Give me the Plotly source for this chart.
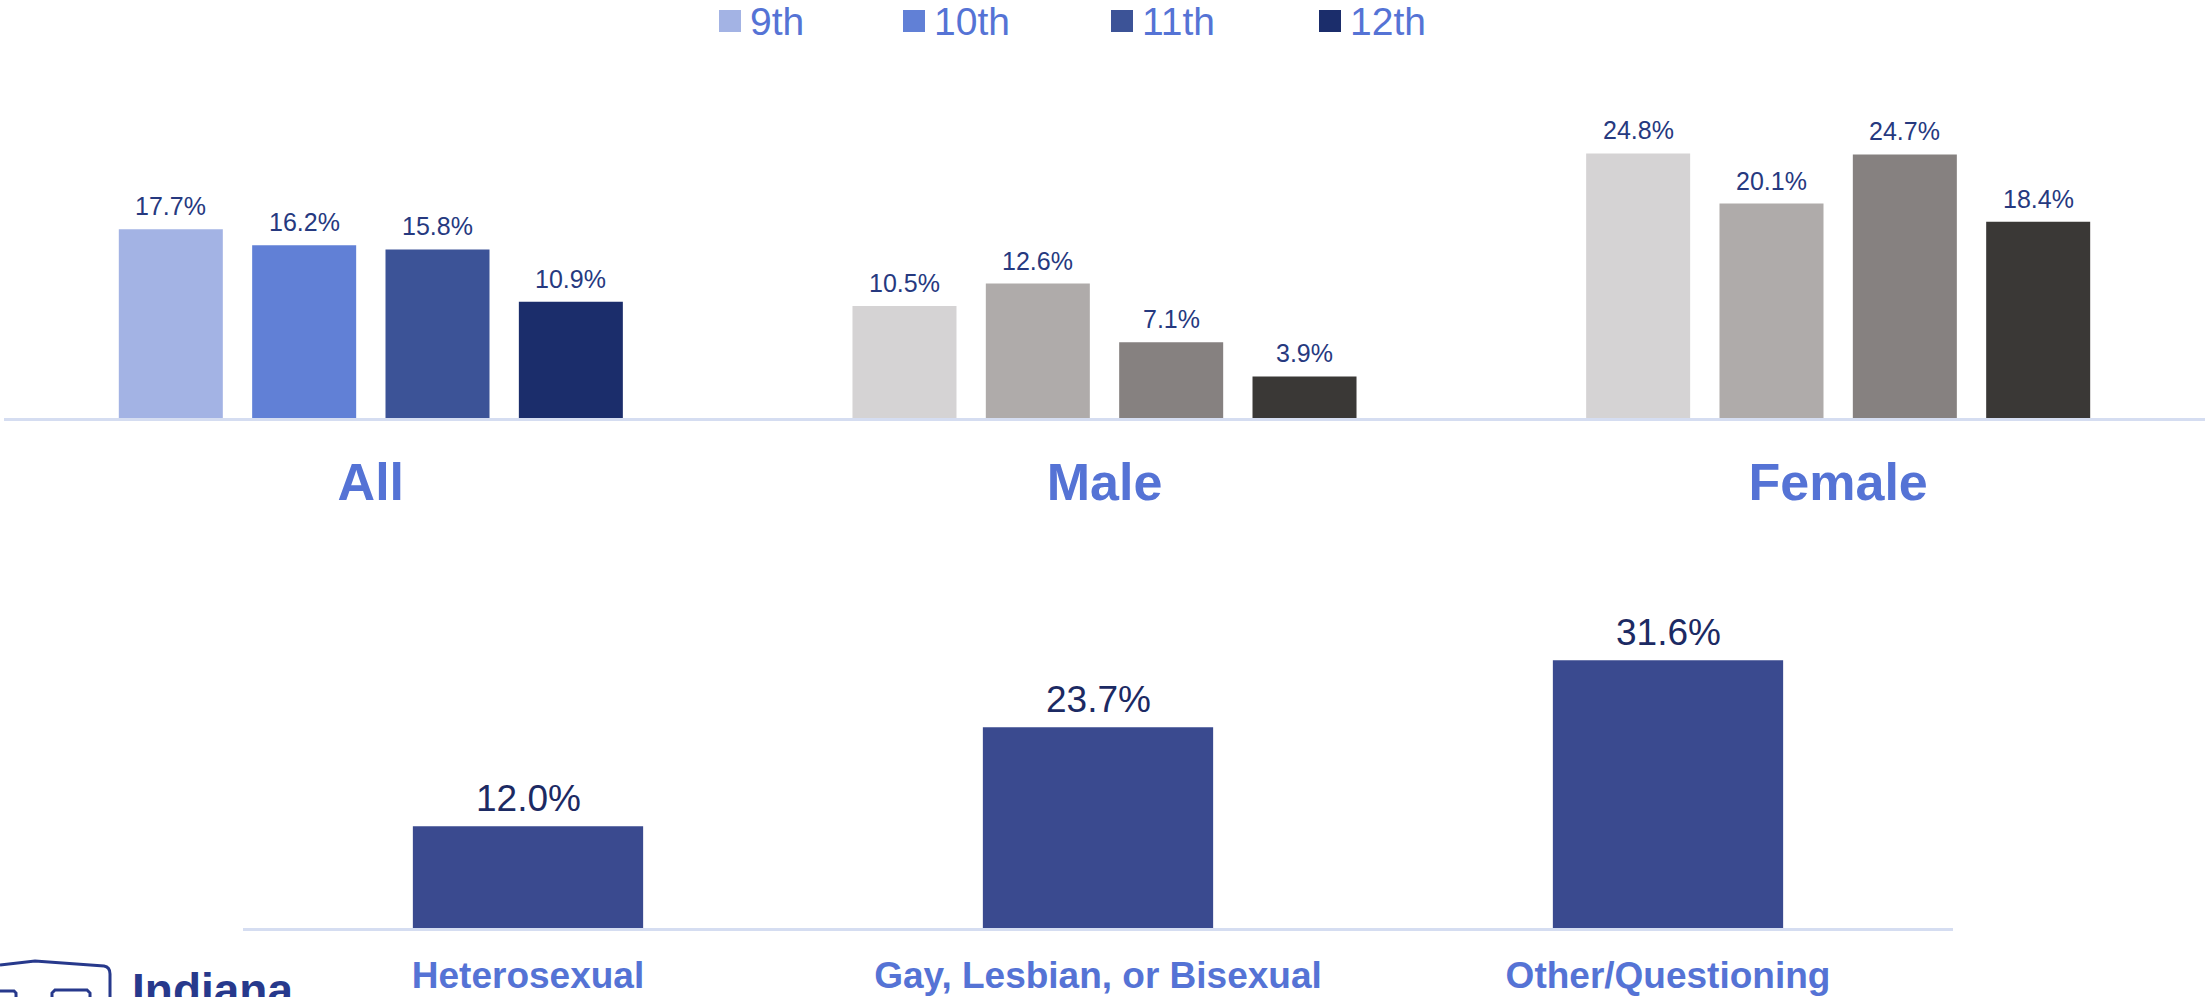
import plotly.graph_objects as go

# full page size; body margin is removed by a post script so the figure fills the page
W, H = 2205, 997

# ---------------- data ----------------
groups = ["All", "Male", "Female"]
grades = ["9th", "10th", "11th", "12th"]
grade9 = [17.7, 10.5, 24.8]
grade10 = [16.2, 12.6, 20.1]
grade11 = [15.8, 7.1, 24.7]
grade12 = [10.9, 3.9, 18.4]
orientations = ["Heterosexual", "Gay, Lesbian, or Bisexual", "Other/Questioning"]
orientation_vals = [12.0, 23.7, 31.6]

# ---------------- styles ----------------
all_colors = ["#A3B3E4", "#6180D6", "#3C5397", "#1B2D6B"]
gender_colors = ["#D5D3D4", "#AFABAA", "#868180", "#3A3836"]
orient_color = "#3A4A8F"
label_blue = "#5573D5"
value_navy = "#26397F"
value_navy2 = "#1C2A63"
axis_line = "#D5DDF1"
FONT = "Arial, Liberation Sans, sans-serif"

BARGAP, BARGROUPGAP = 0.273, 0.22


def px_x(p):
    return p / W


def px_y(p):
    return 1 - p / H


fig = go.Figure()

series = [grade9, grade10, grade11, grade12]
for i, (name, vals) in enumerate(zip(grades, series)):
    fig.add_trace(go.Bar(
        x=groups, y=vals, name=name,
        marker=dict(color=[all_colors[i], gender_colors[i], gender_colors[i]], line=dict(width=0)),
        showlegend=False, xaxis="x", yaxis="y",
    ))

fig.add_trace(go.Bar(
    x=orientations, y=orientation_vals, name="Sexual orientation",
    marker=dict(color=orient_color, line=dict(width=0)),
    width=0.404, showlegend=False,
    xaxis="x2", yaxis="y2",
))

# top chart: baseline at 418px, ~10.67 px per percent
top_base, top_top = 418, 418 - 30 * 10.67
bot_base, bot_top = 928, 928 - 35 * 8.47
x_dom = [px_x(4), 1.0]

fig.update_layout(
    width=W, height=H,
    margin=dict(l=0, r=0, t=0, b=0),
    paper_bgcolor="white", plot_bgcolor="white",
    barmode="group", bargap=BARGAP, bargroupgap=BARGROUPGAP,
    font=dict(family=FONT),
    xaxis=dict(
        domain=x_dom, anchor="y",
        showline=True, linecolor=axis_line, linewidth=2.5,
        showgrid=False, zeroline=False, ticks="",
        tickfont=dict(family=FONT, size=52, color=label_blue, weight="bold"),
        ticklabelstandoff=17,
    ),
    yaxis=dict(
        domain=[px_y(top_base), px_y(top_top)], range=[0, 30],
        visible=False, showgrid=False, zeroline=False,
    ),
    xaxis2=dict(
        domain=[px_x(243), px_x(1953)], anchor="y2",
        showline=True, linecolor=axis_line, linewidth=2.5,
        showgrid=False, zeroline=False, ticks="",
        tickfont=dict(family=FONT, size=37, color=label_blue, weight="bold"),
        ticklabelstandoff=13,
    ),
    yaxis2=dict(
        domain=[px_y(bot_base), px_y(bot_top)], range=[0, 35],
        visible=False, showgrid=False, zeroline=False,
    ),
)

shapes = []
annotations = []

# ---------------- value labels ----------------
cat_px = W * (x_dom[1] - x_dom[0]) / len(groups)
slot_px = cat_px * (1 - BARGAP) / len(grades)
for i, vals in enumerate(series):
    for g, v in zip(groups, vals):
        annotations.append(dict(xref="x", yref="y", x=g, y=v,
                                xshift=(i - (len(grades) - 1) / 2) * slot_px, yshift=7,
                                xanchor="center", yanchor="bottom", showarrow=False,
                                text=f"{v:.1f}%", font=dict(family=FONT, size=25, color=value_navy)))
for c, v in zip(orientations, orientation_vals):
    annotations.append(dict(xref="x2", yref="y2", x=c, y=v, yshift=5,
                            xanchor="center", yanchor="bottom", showarrow=False,
                            text=f"{v:.1f}%", font=dict(family=FONT, size=37, color=value_navy2)))

# ---------------- manual legend ----------------
legend_sq_x = [719, 903, 1111, 1319]
for i, name in enumerate(grades):
    x0 = legend_sq_x[i]
    shapes.append(dict(type="rect", xref="paper", yref="paper",
                       x0=px_x(x0), x1=px_x(x0 + 22), y0=px_y(32), y1=px_y(10),
                       fillcolor=all_colors[i], line=dict(width=0)))
    annotations.append(dict(xref="paper", yref="paper", x=px_x(x0 + 29), y=px_y(21),
                            xanchor="left", yanchor="middle", showarrow=False,
                            text=name, font=dict(family=FONT, size=39, color=label_blue)))

# ---------------- logo fragment (bottom-left) ----------------
logo_navy = "#27398C"
p = lambda x, y: f"{px_x(x):.5f},{px_y(y):.5f}"
shapes.append(dict(type="path", xref="paper", yref="paper",
                   path=f"M {p(0,965)} L {p(35,961)} L {p(104,966)} Q {p(110,967)} {p(110,974)} L {p(110,1002)}",
                   line=dict(color=logo_navy, width=3)))
shapes.append(dict(type="path", xref="paper", yref="paper",
                   path=f"M {p(0,991)} L {p(14,991)} L {p(16,993)} L {p(16,1002)}",
                   line=dict(color=logo_navy, width=3)))
shapes.append(dict(type="path", xref="paper", yref="paper",
                   path=f"M {p(52,1002)} L {p(52,993)} L {p(55,990)} L {p(87,990)} L {p(90,993)} L {p(90,1002)}",
                   line=dict(color=logo_navy, width=3)))
annotations.append(dict(xref="paper", yref="paper", x=px_x(130), y=px_y(962),
                        xanchor="left", yanchor="top", showarrow=False,
                        text="<b>Indiana</b>", font=dict(family=FONT, size=46, color=logo_navy)))

fig.update_layout(shapes=shapes, annotations=annotations)

fig.write_html("out.html",
               config={"displayModeBar": False},
               post_script="document.body.style.margin='0px';document.body.style.overflow='hidden';")
